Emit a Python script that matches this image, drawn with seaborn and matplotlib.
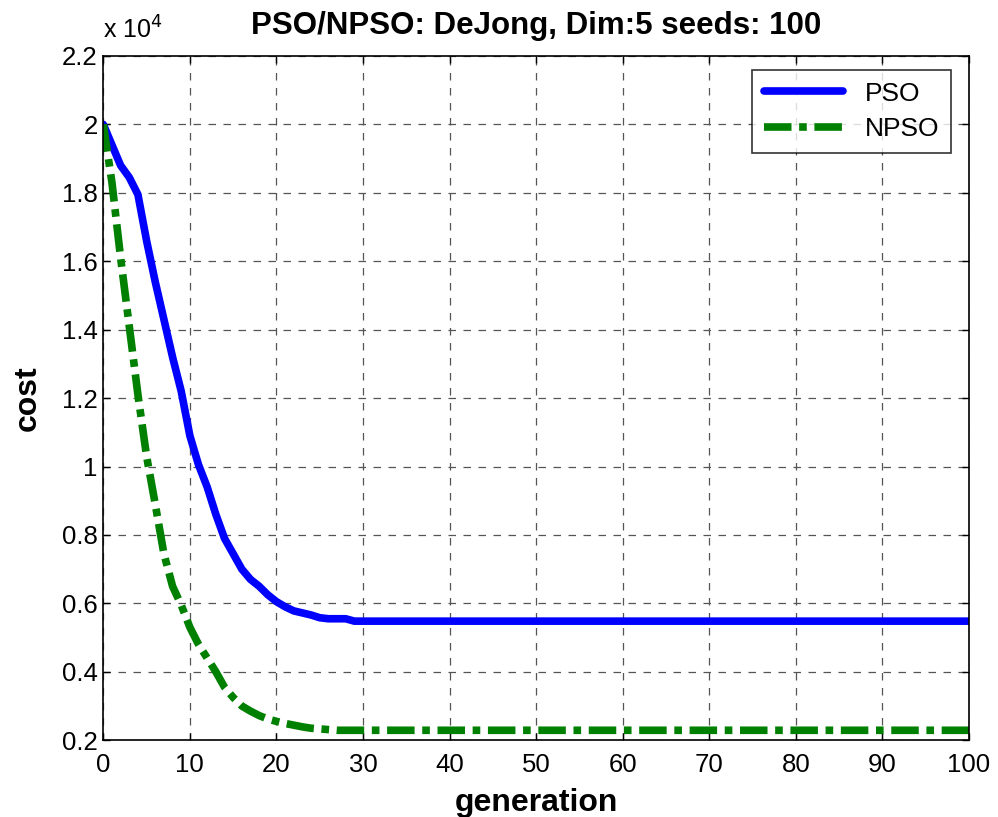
import numpy as np
import pandas as pd
import matplotlib
matplotlib.use("Agg")
import matplotlib.pyplot as plt
from matplotlib.ticker import FuncFormatter
import seaborn as sns

# ---- data (cost in units of 1e4) ----
generations = list(range(0, 31)) + [100]
pso_cost = [2.00, 1.94, 1.88, 1.845, 1.795, 1.66, 1.54, 1.43, 1.32, 1.22,
            1.09, 1.005, 0.94, 0.86, 0.79, 0.745, 0.70, 0.67, 0.65, 0.625,
            0.605, 0.59, 0.578, 0.572, 0.566, 0.558, 0.555, 0.555, 0.555, 0.548,
            0.548, 0.548]
npso_cost = [2.00, 1.83, 1.61, 1.41, 1.21, 1.03, 0.89, 0.745, 0.65, 0.595,
             0.53, 0.48, 0.44, 0.40, 0.355, 0.325, 0.30, 0.285, 0.272, 0.262,
             0.255, 0.249, 0.244, 0.239, 0.235, 0.233, 0.231, 0.229, 0.229, 0.229,
             0.229, 0.229]
series_names = ["PSO", "NPSO"]
x_ticks = list(range(0, 101, 10))
y_ticks = [0.2, 0.4, 0.6, 0.8, 1.0, 1.2, 1.4, 1.6, 1.8, 2.0, 2.2]

df = pd.DataFrame({
    "generation": generations * 2,
    "cost": pso_cost + npso_cost,
    "algo": [series_names[0]] * len(generations) + [series_names[1]] * len(generations),
})

sns.set_style("white")
plt.rcParams["font.family"] = ["Liberation Sans", "DejaVu Sans"]
for k in ["text.color", "axes.labelcolor", "xtick.color", "ytick.color"]:
    plt.rcParams[k] = "black"

fig = plt.figure(figsize=(9.98, 8.17), dpi=100)
ax = fig.add_axes([0.1035, 0.094, 0.8675, 0.8375])

sns.lineplot(data=df[df.algo == "PSO"], x="generation", y="cost", ax=ax,
             color="#0000ff", linewidth=5.5, label="PSO")
sns.lineplot(data=df[df.algo == "NPSO"], x="generation", y="cost", ax=ax,
             color="#008000", linewidth=5.5, label="NPSO")
ax.lines[1].set_dashes([3.6, 1.0, 1.0, 1.0])
ax.lines[1].set_dash_capstyle("butt")

ax.set_xlim(0, 100)
ax.set_ylim(0.2, 2.2)
ax.set_xticks(x_ticks)
ax.set_yticks(y_ticks)
ax.yaxis.set_major_formatter(FuncFormatter(lambda v, p: "%g" % round(v, 2)))
ax.tick_params(direction="in", length=5, width=1, labelsize=18.5, colors="black",
               top=True, right=True, bottom=True, left=True)
ax.tick_params(axis="x", pad=9)
ax.tick_params(axis="y", pad=4)
ax.grid(True, color="#555555", linestyle=(0, (6, 6)), linewidth=0.9)
for s in ax.spines.values():
    s.set_color("black")
    s.set_linewidth(1.2)

ax.set_xlabel("generation", fontsize=23, fontweight="bold", labelpad=8)
ax.set_ylabel("cost", fontsize=23, fontweight="bold", labelpad=14)
ax.set_title("PSO/NPSO: DeJong, Dim:5 seeds: 100", fontsize=22.5, fontweight="bold", pad=16)
ax.text(0.0, 1.018, r"x 10$^{4}$", transform=ax.transAxes, fontsize=18,
        ha="left", va="bottom")

leg = ax.legend(loc="upper right", bbox_to_anchor=(0.979, 0.98), fontsize=19,
                frameon=True, fancybox=False, handlelength=3.0, borderpad=0.45,
                labelspacing=0.45, handletextpad=0.8, borderaxespad=0)
leg.get_frame().set_edgecolor("black")
leg.get_frame().set_linewidth(1.2)
leg.get_lines()[1].set_dashes([3.6, 1.0, 1.0, 1.0])

fig.savefig("out.png", dpi=100, facecolor="white")
